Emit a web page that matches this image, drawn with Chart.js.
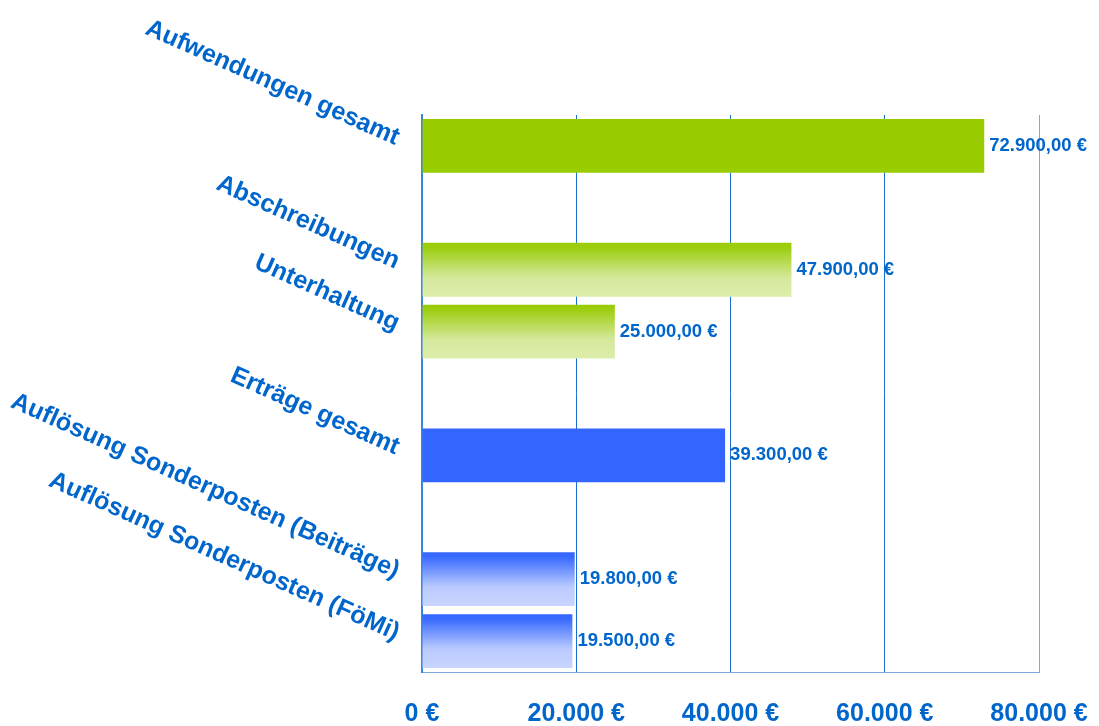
<!DOCTYPE html>
<html>
<head>
<meta charset="utf-8">
<script src="https://cdn.jsdelivr.net/npm/chart.js@4.4.0/dist/chart.umd.min.js"></script>
<style>
  html, body { margin: 0; padding: 0; background: #fff; }
</style>
</head>
<body>
<canvas id="chart" width="1099" height="726"></canvas>
<script>
const categories = [
  "Aufwendungen gesamt",
  "",
  "Abschreibungen",
  "Unterhaltung",
  "",
  "Erträge gesamt",
  "",
  "Auflösung Sonderposten (Beiträge)",
  "Auflösung Sonderposten (FöMi)"
];
const values = [72900, null, 47900, 25000, null, 39300, null, 19800, 19500];
const groups = ["aufwand", null, "aufwand", "aufwand", null, "ertrag", null, "ertrag", "ertrag"];
const totals = [true, false, false, false, false, true, false, false, false];
const xTicks = [0, 20000, 40000, 60000, 80000];

const BLUE_TEXT = "#0066CC";
const FONT = "'Liberation Sans', Arial, sans-serif";

function euro(v, decimals) {
  const parts = v.toFixed(decimals).split(".");
  const int = parts[0].replace(/\B(?=(\d{3})+(?!\d))/g, ".");
  return (parts[1] ? int + "," + parts[1] : int) + " €";
}

function barColor(context) {
  const i = context.dataIndex;
  if (i === undefined) return "#99CC00";
  const green = groups[i] === "aufwand";
  const solid = green ? "#99CC00" : "#3366FF";
  const chart = context.chart;
  if (totals[i] || !chart.chartArea || !chart.scales.y) return solid;
  const y = chart.scales.y.getPixelForValue(i);
  const half = chart.chartArea.height / categories.length * 0.87 / 2;
  const g = chart.ctx.createLinearGradient(0, y - half, 0, y + half);
  if (green) {
    g.addColorStop(0, "#99CC00");
    g.addColorStop(0.1, "#9dce12");
    g.addColorStop(0.65, "#d5e99c");
    g.addColorStop(1, "#dcedaa");
  } else {
    g.addColorStop(0, "#3366FF");
    g.addColorStop(0.1, "#3b6cff");
    g.addColorStop(0.65, "#bccbff");
    g.addColorStop(1, "#c8d5ff");
  }
  return g;
}

// value text right of each bar
const valueLabels = {
  id: "valueLabels",
  afterDatasetsDraw(chart) {
    const ctx = chart.ctx;
    const meta = chart.getDatasetMeta(0);
    ctx.save();
    ctx.font = "bold 18.5px " + FONT;
    ctx.fillStyle = BLUE_TEXT;
    ctx.textBaseline = "middle";
    ctx.textAlign = "left";
    meta.data.forEach((bar, i) => {
      if (values[i] == null) return;
      ctx.fillText(euro(values[i], 2), bar.x + 5, bar.y);
    });
    ctx.restore();
  }
};

new Chart(document.getElementById("chart"), {
  type: "bar",
  data: {
    labels: categories,
    datasets: [{
      data: values,
      backgroundColor: barColor,
      borderWidth: 0,
      barPercentage: 0.87,
      categoryPercentage: 1
    }]
  },
  options: {
    indexAxis: "y",
    responsive: false,
    animation: false,
    layout: { padding: { top: 115, right: 60, bottom: 0, left: 0 } },
    plugins: {
      legend: { display: false },
      tooltip: { enabled: false }
    },
    scales: {
      x: {
        min: 0,
        max: 80000,
        afterBuildTicks: scale => { scale.ticks = xTicks.map(v => ({ value: v })); },
        afterFit: scale => {
          scale.height = 54;
          scale.paddingLeft = 0;
          scale.paddingRight = 0;
        },
        grid: {
          drawTicks: false,
          color: c => (c.tick && c.tick.value === 80000 ? "#7fa9e4" : "#1a6fd2"),
          lineWidth: 1
        },
        border: { display: true, color: "#7fa9e4", width: 1 },
        ticks: {
          padding: 27,
          color: BLUE_TEXT,
          font: { family: FONT, size: 25, weight: "bold" },
          callback: v => euro(v, 0)
        }
      },
      y: {
        afterFit: scale => {
          scale.width = 422;
          scale.paddingTop = 0;
          scale.paddingBottom = 0;
        },
        grid: { display: false, drawTicks: false },
        border: { display: true, color: "#3b86dc", width: 2 },
        ticks: {
          autoSkip: false,
          minRotation: -24,
          maxRotation: -24,
          padding: 24,
          labelOffset: -7,
          color: BLUE_TEXT,
          font: { family: FONT, size: 25, weight: "bold" }
        }
      }
    }
  },
  plugins: [valueLabels]
});
</script>
</body>
</html>
